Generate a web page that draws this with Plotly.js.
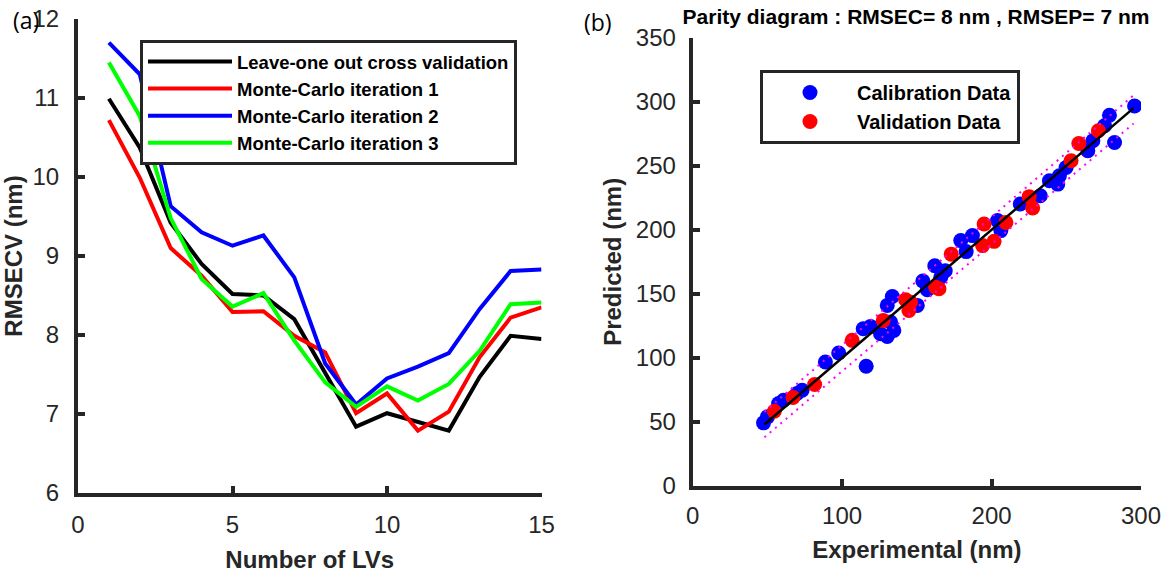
<!DOCTYPE html>
<html>
<head>
<meta charset="utf-8">
<script src="https://cdn.plot.ly/plotly-3.0.1.min.js"></script>
<style>html,body{margin:0;padding:0;background:#fff;}#chart{width:1165px;height:574px;}</style>
</head>
<body>
<div id="chart"></div>
<script>
// ---- Panel (a) data ----
const numLVs = [1,2,3,4,5,6,7,8,9,10,11,12,13,14,15];
const looCV  = [10.99,10.37,9.42,8.90,8.52,8.50,8.20,7.51,6.84,7.01,6.90,6.79,7.47,7.99,7.95];
const mc1    = [10.72,9.99,9.10,8.75,8.29,8.30,7.99,7.78,7.01,7.26,6.79,7.03,7.72,8.22,8.35];
const mc2    = [11.70,11.30,9.63,9.30,9.13,9.26,8.73,7.64,7.12,7.45,7.60,7.77,8.33,8.81,8.83];
const mc3    = [11.45,10.77,9.48,8.71,8.36,8.53,7.93,7.40,7.09,7.35,7.17,7.38,7.80,8.39,8.41];
const seriesNamesA = ['Leave-one out cross validation','Monte-Carlo iteration 1','Monte-Carlo iteration 2','Monte-Carlo iteration 3'];

// ---- Panel (b) data ----
const calX = [47.4,50,57.5,60.8,69.8,73.2,88.8,97.7,114.1,116.1,119,125.7,130.2,130.2,132.4,133.6,134.6,150.3,154,157,162,166,169,179.4,183,187.2,204,206.2,219.2,232.6,238.7,244.3,245.4,249.9,264.4,267.8,275.6,278.9,282.3,295.7];
const calY = [49.3,54,64.4,67,72.2,74.8,96.8,103.8,122.8,93.5,124.6,118.9,116.8,141,128,148,121.5,141,160,153.2,172,163,168,191.6,183,195.5,207.2,199.4,220.2,226.6,238.3,235.7,242.2,248.7,261.7,269.5,281.2,289.5,268.2,296.7];
const valX = [54.6,67.1,81.6,106.7,127.5,142.5,145.8,144.7,162.6,164.8,173,194,195,201.7,209.6,225.2,227.5,253.2,258.4,271.5];
const valY = [58.4,69.1,79.2,113.7,129.3,145.4,143.5,137.1,155.2,154,181,187.7,204.6,191,205.8,225.9,217.1,253.9,267.4,277.3];
const fitX = [48,295];
const fitY = [48,295];
const upperY = [58,305];
const lowerY = [38,283];

const txt = '#262626';
const fontReg = "'Liberation Sans', Arial, sans-serif";
const lineColors = ['#000000','#ff0000','#0000ff','#00ff00'];
const seriesA = [looCV, mc1, mc2, mc3];

const traces = seriesA.map((ys,i)=>({
  x: numLVs, y: ys, type:'scatter', mode:'lines', name: seriesNamesA[i],
  line:{color:lineColors[i], width:4}, xaxis:'x', yaxis:'y', legend:'legend'
}));

traces.push({x:calX,y:calY,type:'scatter',mode:'markers',name:'Calibration Data',
  marker:{color:'#0000ff',size:15},xaxis:'x2',yaxis:'y2',legend:'legend2'});
traces.push({x:valX,y:valY,type:'scatter',mode:'markers',name:'Validation Data',
  marker:{color:'#ff0000',size:15},xaxis:'x2',yaxis:'y2',legend:'legend2'});
traces.push({x:fitX,y:fitY,type:'scatter',mode:'lines',showlegend:false,
  line:{color:'#000',width:2.5},xaxis:'x2',yaxis:'y2'});
traces.push({x:fitX,y:upperY,type:'scatter',mode:'lines',showlegend:false,
  line:{color:'#ff00ff',width:2,dash:'2px,5px'},xaxis:'x2',yaxis:'y2'});
traces.push({x:fitX,y:lowerY,type:'scatter',mode:'lines',showlegend:false,
  line:{color:'#ff00ff',width:2,dash:'2px,5px'},xaxis:'x2',yaxis:'y2'});

const axCommon = {
  showline:true, linewidth:4, linecolor:txt, mirror:false,
  ticks:'inside', ticklen:7, tickwidth:4, tickcolor:txt,
  showgrid:false, zeroline:false, automargin:false,
  tickfont:{family:fontReg,size:24,color:txt}
};
const titleFont = {family:fontReg,size:24,color:txt,weight:'bold'};

const layout = {
  width:1165, height:574,
  margin:{l:0,r:0,t:0,b:0},
  paper_bgcolor:'#fff', plot_bgcolor:'rgba(0,0,0,0)',
  showlegend:true,
  title:{text:'<b>Parity diagram : RMSEC= 8 nm , RMSEP= 7 nm</b>', x:916/1165, xanchor:'center', y:1-17/574, yanchor:'middle',
    font:{family:fontReg,size:21,color:'#000'}},
  xaxis:Object.assign({},axCommon,{domain:[78/1165,541.5/1165],range:[0,15],tickvals:[0,5,10,15],anchor:'y',
    ticklabelstandoff:7,
    title:{text:'<b>Number of LVs</b>',font:titleFont,standoff:15}}),
  yaxis:Object.assign({},axCommon,{domain:[1-493/574,1-19/574],range:[6,12],dtick:1,anchor:'x',
    ticklabelstandoff:10,
    title:{text:'<b>RMSECV (nm)</b>',font:titleFont,standoff:10}}),
  xaxis2:Object.assign({},axCommon,{domain:[692.7/1165,1141/1165],range:[0,300],tickvals:[0,100,200,300],anchor:'y2',
    ticklabelstandoff:5,
    title:{text:'<b>Experimental (nm)</b>',font:titleFont,standoff:14}}),
  yaxis2:Object.assign({},axCommon,{domain:[1-486/574,1-37.7/574],range:[0,350],dtick:50,anchor:'x2',
    ticklabelstandoff:8,
    title:{text:'<b>Predicted (nm)</b>',font:titleFont,standoff:8}}),
  legend:{x:140/1165,xanchor:'left',y:1-40/574,yanchor:'top',
    bgcolor:'#fff',bordercolor:txt,borderwidth:3,
    font:{family:fontReg,size:18.5,color:'#000',weight:'bold'},itemwidth:84,tracegroupgap:0},
  legend2:{x:760/1165,xanchor:'left',y:1-70/574,yanchor:'top',
    bgcolor:'#fff',bordercolor:txt,borderwidth:3,
    font:{family:fontReg,size:20,color:'#000',weight:'bold'},itemwidth:84},
  annotations:[
    {text:'(a)',xref:'paper',yref:'paper',x:26/1165,y:1-20/574,xanchor:'center',yanchor:'middle',showarrow:false,
      font:{family:'Open Sans, sans-serif',size:23,color:'#000'}},
    {text:'(b)',xref:'paper',yref:'paper',x:598/1165,y:1-22/574,xanchor:'center',yanchor:'middle',showarrow:false,
      font:{family:'Open Sans, sans-serif',size:23,color:'#000'}}
  ]
};

Plotly.newPlot('chart', traces, layout, {displayModeBar:false, staticPlot:true});
</script>
</body>
</html>
